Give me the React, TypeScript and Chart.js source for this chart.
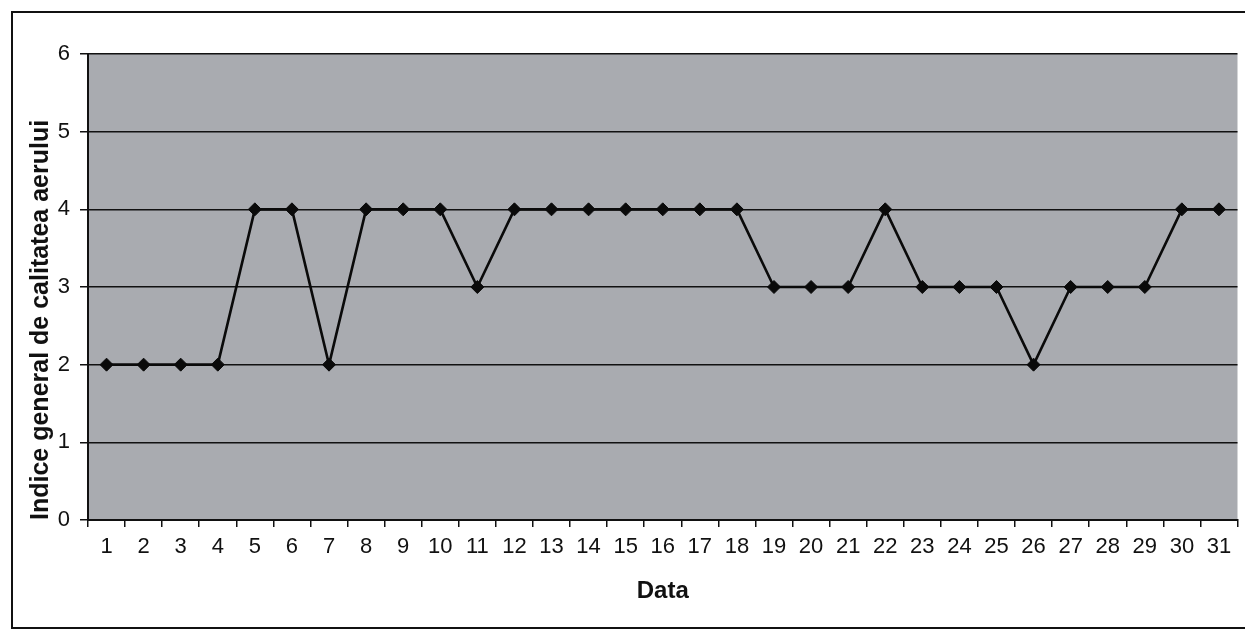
import React, { useEffect, useRef } from "react";
import { Chart, registerables } from "chart.js";

Chart.register(...registerables);

const days: string[] = [
  "1", "2", "3", "4", "5", "6", "7", "8", "9", "10",
  "11", "12", "13", "14", "15", "16", "17", "18", "19", "20",
  "21", "22", "23", "24", "25", "26", "27", "28", "29", "30", "31",
];

const indexValues: number[] = [
  2, 2, 2, 2, 4, 4, 2, 4, 4, 4,
  3, 4, 4, 4, 4, 4, 4, 4, 3, 3,
  3, 4, 3, 3, 3, 2, 3, 3, 3, 4, 4,
];

const yTitle = "Indice general de calitatea aerului";
const xTitle = "Data";

const FONT = "'Liberation Sans', Arial, Helvetica, sans-serif";

const framePlugin = {
  id: "framePlugin",
  beforeDraw(chart: any) {
    const { ctx, chartArea } = chart;
    ctx.save();
    ctx.fillStyle = "#ffffff";
    ctx.fillRect(0, 0, chart.width, chart.height);
    ctx.strokeStyle = "#111111";
    ctx.lineWidth = 2;
    ctx.strokeRect(12, 12, chart.width + 20, 616);
    ctx.fillStyle = "#a9abb0";
    ctx.fillRect(chartArea.left, chartArea.top, chartArea.right - chartArea.left, chartArea.bottom - chartArea.top);
    ctx.restore();
  },
};

export default function App() {
  const canvasRef = useRef<HTMLCanvasElement | null>(null);

  useEffect(() => {
    if (!canvasRef.current) return;
    const chart = new Chart(canvasRef.current, {
      type: "line",
      data: {
        labels: days,
        datasets: [
          {
            label: "Indice",
            data: indexValues,
            borderColor: "#0a0a0a",
            backgroundColor: "#0a0a0a",
            borderWidth: 2.6,
            pointStyle: "rectRot",
            pointRadius: 6.5,
            pointBorderWidth: 1,
            tension: 0,
            fill: false,
          },
        ],
      },
      options: {
        animation: false,
        responsive: true,
        maintainAspectRatio: false,
        layout: { padding: { top: 54, right: 4, left: 0, bottom: 0 } },
        plugins: {
          legend: { display: false },
          tooltip: { enabled: false },
        },
        scales: {
          x: {
            type: "category",
            offset: true,
            afterFit: (scale: any) => {
              scale.height = 112;
            },
            grid: {
              display: true,
              offset: true,
              drawOnChartArea: false,
              drawTicks: true,
              tickLength: 7,
              color: "#111111",
              lineWidth: 1.5,
            },
            border: { display: true, color: "#111111", width: 2 },
            ticks: {
              color: "#111111",
              font: { family: FONT, size: 22 },
              padding: 7,
              maxRotation: 0,
              autoSkip: false,
            },
            title: {
              display: true,
              text: xTitle,
              color: "#111111",
              font: { family: FONT, size: 24, weight: "bold" },
              padding: { top: 0, bottom: 26 },
            },
          },
          y: {
            min: 0,
            max: 6,
            afterFit: (scale: any) => {
              scale.width = 88;
            },
            ticks: {
              stepSize: 1,
              color: "#111111",
              font: { family: FONT, size: 22 },
              padding: 10,
            },
            grid: {
              color: "#111111",
              lineWidth: 1.5,
              tickLength: 8,
              drawTicks: true,
            },
            border: { display: true, color: "#111111", width: 2 },
            title: {
              display: true,
              text: yTitle,
              align: "start",
              color: "#111111",
              font: { family: FONT, size: 25, weight: "bold" },
              padding: { top: 26, bottom: 0 },
            },
          },
        },
      },
      plugins: [framePlugin],
    });
    return () => chart.destroy();
  }, []);

  return (
    <div style={{ position: "fixed", left: 0, top: 0, width: 1245, height: 632 }}>
      <canvas ref={canvasRef} />
    </div>
  );
}
